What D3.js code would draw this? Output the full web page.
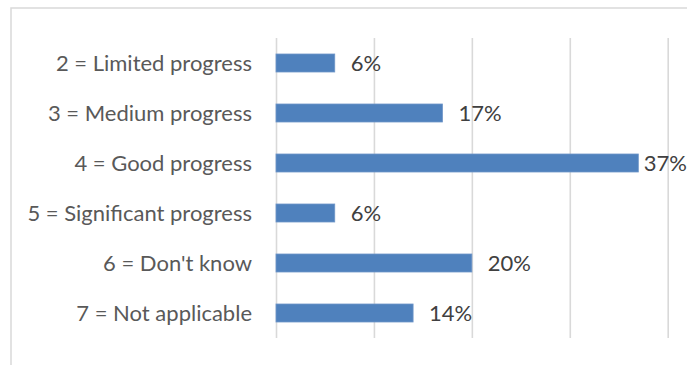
<!DOCTYPE html>
<html>
<head>
<meta charset="utf-8">
<script src="https://cdn.jsdelivr.net/npm/d3@7"></script>
<style>
  html, body { margin: 0; padding: 0; background: #fff; }
  svg { display: block; }
</style>
</head>
<body>
<svg id="chart" width="687" height="365"></svg>
<script>
// Survey responses: share of respondents per progress rating
const categories = [
  "2 = Limited progress",
  "3 = Medium progress",
  "4 = Good progress",
  "5 = Significant progress",
  "6 = Don't know",
  "7 = Not applicable"
];
const percents = [6, 17, 37, 6, 20, 14];
const xTicks = [0, 10, 20, 30, 40];

const W = 687, H = 365;
const plot = { left: 276, right: 667.7, top: 38, bottom: 338 };
const font = "Lato, 'Open Sans', sans-serif";
const fontSize = 22;

const svg = d3.select("#chart");

// chart frame (continues past the page edge on right and bottom)
svg.append("rect")
  .attr("x", 11).attr("y", 8)
  .attr("width", W + 20).attr("height", H + 20)
  .attr("fill", "#fff")
  .attr("stroke", "#d9d9d9").attr("stroke-width", 1.5);

const x = d3.scaleLinear().domain([0, 40]).range([plot.left, plot.right]);
const y = d3.scaleBand().domain(categories)
  .range([plot.top, plot.bottom]).paddingInner(0.64).paddingOuter(0.32);

// vertical gridlines
svg.append("g")
  .attr("transform", `translate(0,${plot.top})`)
  .call(d3.axisBottom(x).tickValues(xTicks)
    .tickSize(plot.bottom - plot.top).tickFormat(""))
  .call(g => g.select(".domain").remove())
  .call(g => g.selectAll(".tick line")
    .attr("stroke", "#d9d9d9").attr("stroke-width", 1.6));

// bars
svg.append("g").selectAll("rect")
  .data(categories)
  .join("rect")
  .attr("x", x(0))
  .attr("y", d => y(d))
  .attr("width", (d, i) => x(percents[i]) - x(0))
  .attr("height", y.bandwidth())
  .attr("fill", "#4f81bd")
  .attr("stroke", "#6f96c8").attr("stroke-width", 0.8);

// category labels
const yAxis = svg.append("g")
  .attr("transform", `translate(${plot.left - 24},0)`)
  .call(d3.axisLeft(y).tickSize(0).tickPadding(0));
yAxis.select(".domain").remove();
yAxis.selectAll(".tick text")
  .attr("font-family", font)
  .attr("font-size", fontSize)
  .attr("fill", "#595959")
  .attr("dy", "0.35em");

// value labels
svg.append("g").selectAll("text")
  .data(categories)
  .join("text")
  .attr("font-family", font)
  .attr("font-size", fontSize)
  .attr("fill", "#404040")
  .attr("y", d => y(d) + y.bandwidth() / 2)
  .attr("dy", "0.35em")
  .text((d, i) => percents[i] + "%")
  .attr("x", function (d, i) {
    const w = this.getComputedTextLength();
    return Math.min(x(percents[i]) + 16, W - w);
  });
</script>
</body>
</html>
